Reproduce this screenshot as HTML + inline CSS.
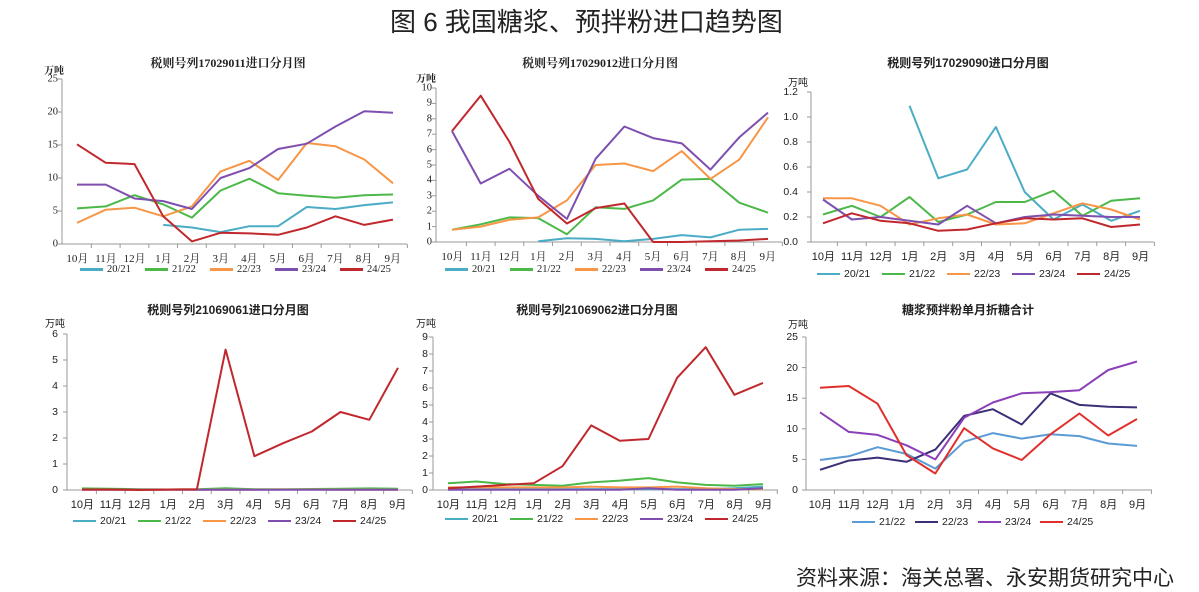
<!DOCTYPE html>
<html><head><meta charset="utf-8">
<style>
body{margin:0;background:#fff;}
#c{position:relative;width:1199px;height:592px;overflow:hidden;background:#fff;font-family:"Liberation Sans","Noto Sans CJK SC",sans-serif;color:#222;}
.t{position:absolute;white-space:nowrap;}
.ser{font-family:"Liberation Serif","Noto Serif CJK SC",serif;}
.pt{font-weight:bold;font-size:12px;transform:translateX(-50%);}
.yl{font-size:10.5px;text-align:right;width:30px;transform:translateY(-50%);}
.row{position:absolute;display:flex;font-size:11px;}
.row span{text-align:center;flex:1;}
.lg{position:absolute;font-size:10.5px;display:flex;align-items:center;}
.lg i{display:inline-block;width:23px;height:2.5px;margin-right:4px;}
</style></head><body><div id="c">
<svg id="s" width="1199" height="592" style="position:absolute;left:0;top:0"></svg>

<div class="t" style="left:390px;top:2px;font-size:26px;">图 6 我国糖浆、预拌粉进口趋势图</div>
<div class="t" style="left:796px;top:562px;font-size:21px;">资料来源：海关总署、永安期货研究中心</div>

<!-- Panel 1 -->
<div class="t pt ser" style="left:228px;top:54px;">税则号列17029011进口分月图</div>
<div class="t ser" style="left:44px;top:62px;font-size:10px;font-weight:bold">万吨</div>
<div class="t yl ser" style="left:28px;top:244px">0</div><div class="t yl ser" style="left:28px;top:211px">5</div><div class="t yl ser" style="left:28px;top:178px">10</div><div class="t yl ser" style="left:28px;top:145px">15</div><div class="t yl ser" style="left:28px;top:112px">20</div><div class="t yl ser" style="left:28px;top:79px">25</div>
<div class="row ser" style="left:63px;top:250px;width:344px"><span>10月</span><span>11月</span><span>12月</span><span>1月</span><span>2月</span><span>3月</span><span>4月</span><span>5月</span><span>6月</span><span>7月</span><span>8月</span><span>9月</span></div>
<div class="lg ser" style="left:80px;top:264px"><i style="background:#4bacc6"></i>20/21</div>
<div class="lg ser" style="left:145px;top:264px"><i style="background:#4cb848"></i>21/22</div>
<div class="lg ser" style="left:210px;top:264px"><i style="background:#f79646"></i>22/23</div>
<div class="lg ser" style="left:275px;top:264px"><i style="background:#7f4fb0"></i>23/24</div>
<div class="lg ser" style="left:340px;top:264px"><i style="background:#c0282d"></i>24/25</div>

<!-- Panel 2 -->
<div class="t pt ser" style="left:600px;top:54px;">税则号列17029012进口分月图</div>
<div class="t ser" style="left:416px;top:70px;font-size:10px;font-weight:bold">万吨</div>
<div class="t yl ser" style="left:402px;top:242px">0</div><div class="t yl ser" style="left:402px;top:226.6px">1</div><div class="t yl ser" style="left:402px;top:211.2px">2</div><div class="t yl ser" style="left:402px;top:195.8px">3</div><div class="t yl ser" style="left:402px;top:180.4px">4</div><div class="t yl ser" style="left:402px;top:165px">5</div><div class="t yl ser" style="left:402px;top:149.6px">6</div><div class="t yl ser" style="left:402px;top:134.2px">7</div><div class="t yl ser" style="left:402px;top:118.8px">8</div><div class="t yl ser" style="left:402px;top:103.4px">9</div><div class="t yl ser" style="left:402px;top:88px">10</div>
<div class="row ser" style="left:438px;top:248px;width:344px"><span>10月</span><span>11月</span><span>12月</span><span>1月</span><span>2月</span><span>3月</span><span>4月</span><span>5月</span><span>6月</span><span>7月</span><span>8月</span><span>9月</span></div>
<div class="lg ser" style="left:445px;top:264px"><i style="background:#4bacc6"></i>20/21</div>
<div class="lg ser" style="left:510px;top:264px"><i style="background:#4cb848"></i>21/22</div>
<div class="lg ser" style="left:575px;top:264px"><i style="background:#f79646"></i>22/23</div>
<div class="lg ser" style="left:640px;top:264px"><i style="background:#7f4fb0"></i>23/24</div>
<div class="lg ser" style="left:705px;top:264px"><i style="background:#c0282d"></i>24/25</div>

<!-- Panel 3 -->
<div class="t pt" style="left:968px;top:54px;">税则号列17029090进口分月图</div>
<div class="t" style="left:788px;top:74px;font-size:10px;">万吨</div>
<div class="t yl" style="left:768px;top:242px">0.0</div><div class="t yl" style="left:768px;top:217px">0.2</div><div class="t yl" style="left:768px;top:192px">0.4</div><div class="t yl" style="left:768px;top:167px">0.6</div><div class="t yl" style="left:768px;top:142px">0.8</div><div class="t yl" style="left:768px;top:117px">1.0</div><div class="t yl" style="left:768px;top:92px">1.2</div>
<div class="row" style="left:809px;top:248px;width:346px"><span>10月</span><span>11月</span><span>12月</span><span>1月</span><span>2月</span><span>3月</span><span>4月</span><span>5月</span><span>6月</span><span>7月</span><span>8月</span><span>9月</span></div>
<div class="lg" style="left:817px;top:268px"><i style="background:#4bacc6"></i>20/21</div>
<div class="lg" style="left:882px;top:268px"><i style="background:#4cb848"></i>21/22</div>
<div class="lg" style="left:947px;top:268px"><i style="background:#f79646"></i>22/23</div>
<div class="lg" style="left:1012px;top:268px"><i style="background:#7f4fb0"></i>23/24</div>
<div class="lg" style="left:1077px;top:268px"><i style="background:#c0282d"></i>24/25</div>

<!-- Panel 4 -->
<div class="t pt" style="left:228px;top:301px;">税则号列21069061进口分月图</div>
<div class="t" style="left:45px;top:315px;font-size:10px;">万吨</div>
<div class="t yl" style="left:28px;top:490px">0</div><div class="t yl" style="left:28px;top:464px">1</div><div class="t yl" style="left:28px;top:438px">2</div><div class="t yl" style="left:28px;top:412px">3</div><div class="t yl" style="left:28px;top:386px">4</div><div class="t yl" style="left:28px;top:360px">5</div><div class="t yl" style="left:28px;top:334px">6</div>
<div class="row" style="left:68px;top:496px;width:344px"><span>10月</span><span>11月</span><span>12月</span><span>1月</span><span>2月</span><span>3月</span><span>4月</span><span>5月</span><span>6月</span><span>7月</span><span>8月</span><span>9月</span></div>
<div class="lg" style="left:73px;top:515px"><i style="background:#4bacc6"></i>20/21</div>
<div class="lg" style="left:138px;top:515px"><i style="background:#4cb848"></i>21/22</div>
<div class="lg" style="left:203px;top:515px"><i style="background:#f79646"></i>22/23</div>
<div class="lg" style="left:268px;top:515px"><i style="background:#7f4fb0"></i>23/24</div>
<div class="lg" style="left:333px;top:515px"><i style="background:#c0282d"></i>24/25</div>

<!-- Panel 5 -->
<div class="t pt" style="left:597px;top:301px;">税则号列21069062进口分月图</div>
<div class="t" style="left:416px;top:315px;font-size:10px;">万吨</div>
<div class="t yl" style="left:398px;top:490px">0</div><div class="t yl" style="left:398px;top:473px">1</div><div class="t yl" style="left:398px;top:456px">2</div><div class="t yl" style="left:398px;top:439px">3</div><div class="t yl" style="left:398px;top:422px">4</div><div class="t yl" style="left:398px;top:405px">5</div><div class="t yl" style="left:398px;top:388px">6</div><div class="t yl" style="left:398px;top:371px">7</div><div class="t yl" style="left:398px;top:354px">8</div><div class="t yl" style="left:398px;top:337px">9</div>
<div class="row" style="left:434px;top:496px;width:344px"><span>10月</span><span>11月</span><span>12月</span><span>1月</span><span>2月</span><span>3月</span><span>4月</span><span>5月</span><span>6月</span><span>7月</span><span>8月</span><span>9月</span></div>
<div class="lg" style="left:445px;top:513px"><i style="background:#4bacc6"></i>20/21</div>
<div class="lg" style="left:510px;top:513px"><i style="background:#4cb848"></i>21/22</div>
<div class="lg" style="left:575px;top:513px"><i style="background:#f79646"></i>22/23</div>
<div class="lg" style="left:640px;top:513px"><i style="background:#7f4fb0"></i>23/24</div>
<div class="lg" style="left:705px;top:513px"><i style="background:#c0282d"></i>24/25</div>

<!-- Panel 6 -->
<div class="t pt" style="left:968px;top:301px;">糖浆预拌粉单月折糖合计</div>
<div class="t" style="left:788px;top:316px;font-size:10px;">万吨</div>
<div class="t yl" style="left:768px;top:490px">0</div><div class="t yl" style="left:768px;top:459.4px">5</div><div class="t yl" style="left:768px;top:428.8px">10</div><div class="t yl" style="left:768px;top:398.2px">15</div><div class="t yl" style="left:768px;top:367.6px">20</div><div class="t yl" style="left:768px;top:337px">25</div>
<div class="row" style="left:806px;top:496px;width:346px"><span>10月</span><span>11月</span><span>12月</span><span>1月</span><span>2月</span><span>3月</span><span>4月</span><span>5月</span><span>6月</span><span>7月</span><span>8月</span><span>9月</span></div>
<div class="lg" style="left:852px;top:516px"><i style="background:#5b9bd5"></i>21/22</div>
<div class="lg" style="left:915px;top:516px"><i style="background:#3b2f77"></i>22/23</div>
<div class="lg" style="left:978px;top:516px"><i style="background:#8b3fb8"></i>23/24</div>
<div class="lg" style="left:1040px;top:516px"><i style="background:#e0302c"></i>24/25</div>
</div>
<script>
var s=document.getElementById('s'),NS='http://www.w3.org/2000/svg';
function el(t,a){var e=document.createElementNS(NS,t);for(var k in a)e.setAttribute(k,a[k]);s.appendChild(e);return e;}
var C=['#4bacc6','#4cb848','#f79646','#7f4fb0','#c0282d'];
var N=null;
var P=[
{ax:62,x0:77,x1:393,yT:79,y0:244,max:25,nt:5,right:407,s:[
[N,N,N,2.9,2.5,1.8,2.7,2.7,5.6,5.3,5.9,6.3],
[5.4,5.7,7.4,6.0,4.0,8.1,9.9,7.7,7.3,7.0,7.4,7.5],
[3.2,5.2,5.5,4.2,5.7,11,12.6,9.7,15.3,14.8,12.8,9.2],
[9,9,6.9,6.5,5.3,10,11.5,14.4,15.2,17.8,20.1,19.9],
[15.1,12.3,12.1,4.2,0.4,1.7,1.6,1.4,2.5,4.2,2.9,3.7]]},
{ax:436,x0:452,x1:768,yT:88,y0:242,max:10,nt:10,right:782,s:[
[N,N,N,0.05,0.25,0.2,0.05,0.2,0.45,0.3,0.8,0.85],
[0.8,1.15,1.6,1.55,0.5,2.25,2.15,2.7,4.05,4.1,2.55,1.9],
[0.8,1.0,1.45,1.6,2.7,5,5.1,4.6,5.9,4.1,5.35,8.1],
[7.2,3.8,4.75,3.0,1.5,5.4,7.5,6.75,6.4,4.7,6.8,8.4],
[7.2,9.5,6.5,2.8,1.2,2.2,2.5,0,0,0.05,0.1,0.2]]},
{ax:811,x0:823,x1:1140,yT:92,y0:242,max:1.2,nt:6,right:1154,s:[
[N,N,N,1.09,0.51,0.58,0.92,0.4,0.18,0.3,0.17,0.25],
[0.22,0.29,0.2,0.36,0.16,0.22,0.32,0.32,0.41,0.21,0.33,0.35],
[0.35,0.35,0.29,0.14,0.19,0.22,0.14,0.15,0.23,0.31,0.26,0.18],
[0.34,0.18,0.2,0.17,0.14,0.29,0.15,0.2,0.22,0.21,0.2,0.2],
[0.15,0.23,0.17,0.15,0.09,0.1,0.15,0.19,0.18,0.19,0.12,0.14]]},
{ax:67,x0:82,x1:398,yT:334,y0:490,max:6,nt:6,right:412,s:[
[0.02,0.02,0.02,0.02,0.02,0.02,0.02,0.02,0.02,0.02,0.03,0.03],
[0.06,0.05,0.03,0.02,0.03,0.07,0.03,0.03,0.04,0.05,0.06,0.05],
[0.01,0.01,0.01,0.01,0.01,0.01,0.01,0.02,0.02,0.01,0.01,0.01],
[0.01,0.01,0.01,0.01,0.01,0.01,0.01,0.01,0.01,0.01,0.01,0.01],
[0.02,0.02,0,0.02,0.03,5.4,1.3,1.8,2.25,3.0,2.7,4.7]]},
{ax:433,x0:448,x1:763,yT:337,y0:490,max:9,nt:9,right:778,s:[
[0.05,0.05,0.05,0.05,0.05,0.05,0.05,0.05,0.05,0.05,0.1,0.2],
[0.4,0.5,0.35,0.3,0.25,0.45,0.55,0.7,0.45,0.3,0.25,0.35],
[0.15,0.15,0.15,0.15,0.15,0.2,0.15,0.15,0.2,0.1,0.05,0.05],
[0.02,0.02,0.02,0.02,0.02,0.02,0.02,0.1,0.02,0.02,0.02,0.1],
[0.1,0.2,0.3,0.4,1.4,3.8,2.9,3.0,6.6,8.4,5.6,6.3]]},
{ax:806,x0:820,x1:1137,yT:337,y0:490,max:25,nt:5,right:1152,c:['#5b9bd5','#3b2f77','#8b3fb8','#e0302c'],s:[
[4.9,5.5,7.0,5.9,3.5,7.9,9.3,8.4,9.1,8.8,7.6,7.2],
[3.3,4.8,5.3,4.6,6.6,12.1,13.2,10.7,15.8,13.9,13.6,13.5],
[12.7,9.5,9.0,7.3,5.0,11.8,14.3,15.8,16.0,16.3,19.6,21.0],
[16.7,17.0,14.1,5.7,2.7,10.1,6.8,4.9,9.1,12.5,8.9,11.6]]}
];
P.forEach(function(p){
 var st=(p.x1-p.x0)/11;
 el('line',{x1:p.ax,y1:p.yT,x2:p.ax,y2:p.y0,stroke:'#999','stroke-width':1});
 el('line',{x1:p.ax,y1:p.y0,x2:p.right,y2:p.y0,stroke:'#999','stroke-width':1});
 for(var i=0;i<=p.nt;i++){var y=p.y0-(p.y0-p.yT)*i/p.nt;el('line',{x1:p.ax-4,y1:y,x2:p.ax,y2:y,stroke:'#999'});}
 for(var i=0;i<12;i++){var x=p.x0+st*(i+0.5);el('line',{x1:x,y1:p.y0,x2:x,y2:p.y0+4,stroke:'#999'});}
 var cols=p.c||C;
 p.s.forEach(function(d,k){
  var pts=[];d.forEach(function(v,i){if(v!==null)pts.push((p.x0+st*i).toFixed(1)+','+(p.y0-(p.y0-p.yT)*v/p.max).toFixed(1));});
  el('polyline',{points:pts.join(' '),fill:'none',stroke:cols[k],'stroke-width':2,'stroke-linejoin':'round'});
 });
});
</script>
</body></html>
